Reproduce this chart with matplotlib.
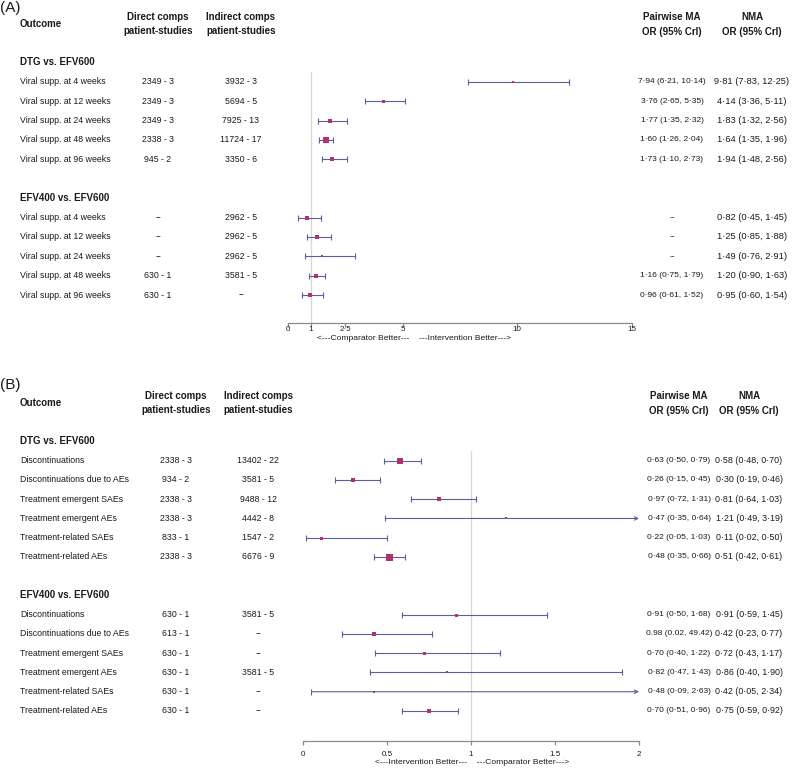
import numpy as np
import matplotlib
matplotlib.use('Agg')
import matplotlib.pyplot as plt
from matplotlib.transforms import blended_transform_factory

plt.rcParams['font.family'] = ['Liberation Sans', 'DejaVu Sans']

W, H = 796, 769

# ---- Panel A: viral suppression ----
a_groups = ['DTG vs. EFV600', 'EFV400 vs. EFV600']
a_outcomes = ['Viral supp. at 4 weeks', 'Viral supp. at 12 weeks', 'Viral supp. at 24 weeks',
              'Viral supp. at 48 weeks', 'Viral supp. at 96 weeks'] * 2
a_direct = ['2349 - 3', '2349 - 3', '2349 - 3', '2338 - 3', '945 - 2',
            '--', '--', '--', '630 - 1', '630 - 1']
a_indirect = ['3932 - 3', '5694 - 5', '7925 - 13', '11724 - 17', '3350 - 6',
              '2962 - 5', '2962 - 5', '2962 - 5', '3581 - 5', '--']
a_pairwise = ['7·94 (6·21, 10·14)', '3·76 (2·65, 5·35)', '1·77 (1·35, 2·32)',
              '1·60 (1·26, 2·04)', '1·73 (1·10, 2·73)',
              '--', '--', '--', '1·16 (0·75, 1·79)', '0·96 (0·61, 1·52)']
a_or = [9.81, 4.14, 1.83, 1.64, 1.94, 0.82, 1.25, 1.49, 1.20, 0.95]
a_lo = [7.83, 3.36, 1.32, 1.35, 1.48, 0.45, 0.85, 0.76, 0.90, 0.60]
a_hi = [12.25, 5.11, 2.56, 1.96, 2.56, 1.45, 1.88, 2.91, 1.63, 1.54]
a_weight = [2, 3, 4, 6, 4, 4, 4, 2, 5, 4]
a_ticks = [0, 1, 2.5, 5, 10, 15]
a_ticklabels = ['0', '1', '2·5', '5', '10', '15']

# ---- Panel B: discontinuations and adverse events ----
b_groups = ['DTG vs. EFV600', 'EFV400 vs. EFV600']
b_outcomes = ['Discontinuations', 'Discontinuations due to AEs', 'Treatment emergent SAEs',
              'Treatment emergent AEs', 'Treatment-related SAEs', 'Treatment-related AEs'] * 2
b_direct = ['2338 - 3', '934 - 2', '2338 - 3', '2338 - 3', '833 - 1', '2338 - 3',
            '630 - 1', '613 - 1', '630 - 1', '630 - 1', '630 - 1', '630 - 1']
b_indirect = ['13402 - 22', '3581 - 5', '9488 - 12', '4442 - 8', '1547 - 2', '6676 - 9',
              '3581 - 5', '--', '--', '3581 - 5', '--', '--']
b_pairwise = ['0·63 (0·50, 0·79)', '0·26 (0·15, 0·45)', '0·97 (0·72, 1·31)',
              '0·47 (0·35, 0·64)', '0·22 (0·05, 1·03)', '0·48 (0·35, 0·66)',
              '0·91 (0·50, 1·68)', '0.98 (0.02, 49.42)', '0·70 (0·40, 1·22)',
              '0·82 (0·47, 1·43)', '0·48 (0·09, 2·63)', '0·70 (0·51, 0·96)']
b_or = [0.58, 0.30, 0.81, 1.21, 0.11, 0.51, 0.91, 0.42, 0.72, 0.86, 0.42, 0.75]
b_lo = [0.48, 0.19, 0.64, 0.49, 0.02, 0.42, 0.59, 0.23, 0.43, 0.40, 0.05, 0.59]
b_hi = [0.70, 0.46, 1.03, 3.19, 0.50, 0.61, 1.45, 0.77, 1.17, 1.90, 2.34, 0.92]
b_weight = [6, 5, 4, 2, 3, 7, 3, 4, 3, 2, 2, 5]
b_ticks = [0, 0.5, 1, 1.5, 2]
b_ticklabels = ['0', '0.5', '1', '1.5', '2']

LINE = '#5c5c9e'
BOX = '#b3326b'
TXT = '#1a1a1a'
AXC = '#8a8a8a'


def fx(px):
    return px / W


def fy(py):
    return 1 - py / H


def fmt(v):
    return f'{v:.2f}'.replace('.', '·')


def panel(tag, ytag, ytop, ybot, xleft, xright, row_gap, groups, outcomes, direct, indirect,
          pairwise, est, lo, hi, weight, ticks, ticklabels, tick_pad, xlabel, xlabel_x, xlabel_dy,
          col_direct, col_indirect, col_pw, col_nma, nma_size, head_y):
    n1 = len(outcomes) // 2
    rows = list(range(n1)) + list(range(n1 + 2, 2 * n1 + 2))
    heads = [-1, n1 + 1]
    ymax = (ybot - ytop) / row_gap - 0.5

    ax = fig.add_axes([fx(xleft), fy(ybot), (xright - xleft) / W, (ybot - ytop) / H])
    ax.set_xlim(ticks[0], ticks[-1])
    ax.set_ylim(ymax, -0.5)
    for s in ['top', 'right', 'left']:
        ax.spines[s].set_visible(False)
    ax.spines['bottom'].set_color(AXC)
    ax.spines['bottom'].set_linewidth(0.9)
    ax.set_yticks([])
    ax.set_xticks(ticks)
    ax.set_xticklabels(ticklabels)
    ax.tick_params(axis='x', direction='out', length=3, width=0.9, color=AXC,
                   labelsize=5.8, labelcolor=TXT, pad=tick_pad)
    ax.patch.set_alpha(0)
    ax.axvline(1, color='#d6d6d6', lw=0.9, zorder=0)

    xmax = ticks[-1]
    for r, e, l, h, w in zip(rows, est, lo, hi, weight):
        if h > xmax:
            ax.annotate('', xy=(xmax, r), xytext=(l, r),
                        arrowprops=dict(arrowstyle='->', color=LINE, lw=0.8,
                                        shrinkA=0, shrinkB=0, mutation_scale=6))
            ax.plot([l], [r], marker='|', ms=4, mew=0.8, color=LINE)
        else:
            ax.plot([l, h], [r, r], color=LINE, lw=0.8)
            ax.plot([l, h], [r, r], ls='none', marker='|', ms=4, mew=0.8, color=LINE)
        ax.plot([e], [r], marker='s', ms=w * 0.72, color=BOX, mew=0, zorder=3)

    tr = blended_transform_factory(fig.transFigure, ax.transData)
    kw = dict(transform=tr, va='center', fontsize=6.3, color=TXT)
    for g, r in zip(groups, heads):
        ax.text(fx(20), r, g, ha='left', fontweight='bold', **{**kw, 'fontsize': 7})
    for i, r in enumerate(rows):
        ax.text(fx(20), r, outcomes[i], ha='left', **kw)
        ax.text(fx(col_direct), r, direct[i], ha='center', **kw)
        ax.text(fx(col_indirect), r, indirect[i], ha='center', **kw)
        ax.text(fx(col_pw), r, pairwise[i], ha='center', **{**kw, 'fontsize': 6.0})
        ax.text(fx(col_nma), r, f'{fmt(est[i])} ({fmt(lo[i])}, {fmt(hi[i])})',
                ha='center', **{**kw, 'fontsize': nma_size})

    # header block
    hk = dict(fontsize=7, fontweight='bold', color=TXT, va='center')
    fig.text(fx(0), fy(ytag), tag, fontsize=11, color=TXT, va='center', ha='left')
    fig.text(fx(20), fy(head_y + 7), 'Outcome', ha='left', **hk)
    fig.text(fx(col_direct), fy(head_y), 'Direct comps', ha='center', **hk)
    fig.text(fx(col_direct), fy(head_y + 14), 'patient-studies', ha='center', **hk)
    fig.text(fx(col_indirect), fy(head_y), 'Indirect comps', ha='center', **hk)
    fig.text(fx(col_indirect), fy(head_y + 14), 'patient-studies', ha='center', **hk)
    fig.text(fx(col_pw), fy(head_y), 'Pairwise MA', ha='center', **hk)
    fig.text(fx(col_pw), fy(head_y + 15), 'OR (95% CrI)', ha='center', **hk)
    fig.text(fx(col_nma), fy(head_y), 'NMA', ha='center', **hk)
    fig.text(fx(col_nma), fy(head_y + 15), 'OR (95% CrI)', ha='center', **hk)

    fig.text(fx(xlabel_x), fy(ybot + xlabel_dy), xlabel, ha='center', va='center',
             fontsize=6.1, color=TXT)
    return ax


fig = plt.figure(figsize=(W / 100, H / 100), dpi=100)
fig.patch.set_facecolor('white')

panel('(A)', 8, 72, 323.3, 288, 632, 19.4, a_groups, a_outcomes, a_direct, a_indirect,
      a_pairwise, a_or, a_lo, a_hi, a_weight, a_ticks, a_ticklabels, -1.0,
      '<---Comparator Better---    ---Intervention Better--->', 414, 15.5,
      158, 241, 672, 752, 6.7, 17)

panel('(B)', 385, 451.1, 741, 303, 639, 19.25, b_groups, b_outcomes, b_direct, b_indirect,
      b_pairwise, b_or, b_lo, b_hi, b_weight, b_ticks, b_ticklabels, 4.5,
      '<---Intervention Better---    ---Comparator Better--->', 472, 22,
      176, 258, 679, 749, 6.4, 396)

fig.savefig('out.png', dpi=100)
